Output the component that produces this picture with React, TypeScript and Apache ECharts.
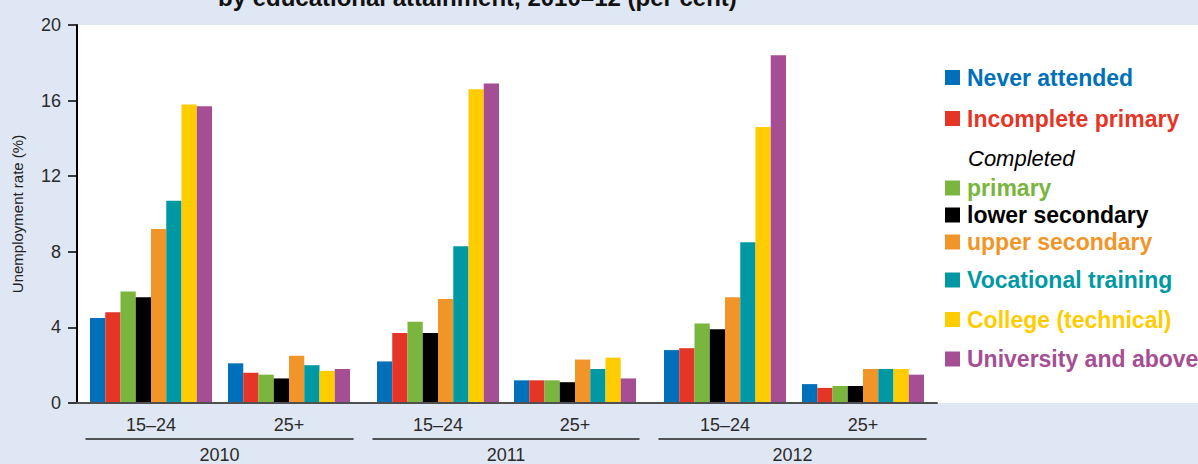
import React, { useEffect, useRef } from "react";
import * as echarts from "echarts";

const ageGroups = ["15–24", "25+"];
const years = ["2010", "2011", "2012"];
const levelNames = [
  "Never attended",
  "Incomplete primary",
  "primary",
  "lower secondary",
  "upper secondary",
  "Vocational training",
  "College (technical)",
  "University and above",
];
// order: 2010 15–24, 2010 25+, 2011 15–24, 2011 25+, 2012 15–24, 2012 25+
const neverAttended = [4.5, 2.1, 2.2, 1.2, 2.8, 1.0];
const incompletePrimary = [4.8, 1.6, 3.7, 1.2, 2.9, 0.8];
const primary = [5.9, 1.5, 4.3, 1.2, 4.2, 0.9];
const lowerSecondary = [5.6, 1.3, 3.7, 1.1, 3.9, 0.9];
const upperSecondary = [9.2, 2.5, 5.5, 2.3, 5.6, 1.8];
const vocational = [10.7, 2.0, 8.3, 1.8, 8.5, 1.8];
const college = [15.8, 1.7, 16.6, 2.4, 14.6, 1.8];
const university = [15.7, 1.8, 16.9, 1.3, 18.4, 1.5];
const levelValues = [
  neverAttended,
  incompletePrimary,
  primary,
  lowerSecondary,
  upperSecondary,
  vocational,
  college,
  university,
];
const colors = [
  "#0070BA",
  "#E53527",
  "#7AB53E",
  "#000000",
  "#F29528",
  "#0099A3",
  "#FFCC00",
  "#A64E93",
];

const FONT = "'Liberation Sans', Arial, Helvetica, sans-serif";
const TOP = 25;
const PLOT_H = 378;

// layout of the per-year bar grids and year-label grids
const barGrids = [
  { left: 82, width: 276 },
  { left: 369.5, width: 274 },
  { left: 656, width: 276 },
];
const yearGrids = [
  { left: 86, width: 267 },
  { left: 373, width: 266 },
  { left: 659, width: 267 },
];

export default function App() {
  const ref = useRef<HTMLDivElement>(null);

  useEffect(() => {
    document.body.style.margin = "0";
    if (!ref.current) return;
    const chart = echarts.init(ref.current, undefined, { renderer: "svg" });

    const grids: any[] = [
      { left: 77, width: 860, top: TOP, height: PLOT_H },
      ...barGrids.map((g) => ({ left: g.left, width: g.width, top: TOP, height: PLOT_H })),
      ...yearGrids.map((g) => ({ left: g.left, width: g.width, top: TOP, height: PLOT_H })),
    ];

    const xAxes: any[] = [
      {
        type: "value",
        gridIndex: 0,
        min: 0,
        max: 1,
        z: 10,
        axisLine: { show: true, onZero: false, lineStyle: { color: "#505050", width: 2 } },
        axisTick: { show: false },
        axisLabel: { show: false },
        splitLine: { show: false },
      },
      ...barGrids.map((_, i) => ({
        type: "category",
        gridIndex: 1 + i,
        data: ageGroups,
        axisLine: { show: false },
        axisTick: { show: false },
        axisLabel: { fontSize: 18, color: "#2a2a2a", margin: 13, fontFamily: FONT },
        splitLine: { show: false },
      })),
      ...yearGrids.map((_, i) => ({
        type: "category",
        gridIndex: 4 + i,
        data: [years[i]],
        position: "bottom",
        offset: 38,
        axisLine: { show: true, onZero: false, lineStyle: { color: "#222", width: 1.5 } },
        axisTick: { show: false },
        axisLabel: { fontSize: 18, color: "#2a2a2a", margin: 7, fontFamily: FONT },
        splitLine: { show: false },
      })),
    ];

    const yAxes: any[] = [
      {
        type: "value",
        gridIndex: 0,
        min: 0,
        max: 20,
        interval: 4,
        name: "Unemployment rate (%)",
        nameLocation: "middle",
        nameGap: 52,
        nameRotate: 90,
        nameTextStyle: { fontSize: 15, color: "#222", fontFamily: FONT },
        axisLine: { show: true, onZero: false, lineStyle: { color: "#000", width: 2 } },
        axisTick: { show: true, length: 9, lineStyle: { color: "#000", width: 1.5 } },
        axisLabel: { fontSize: 18, color: "#2a2a2a", margin: 16, fontFamily: FONT },
        splitLine: { show: false },
      },
      ...barGrids.map((_, i) => ({
        type: "value",
        gridIndex: 1 + i,
        min: 0,
        max: 20,
        show: false,
      })),
      ...yearGrids.map((_, i) => ({
        type: "value",
        gridIndex: 4 + i,
        min: 0,
        max: 1,
        show: false,
      })),
    ];

    const series: any[] = [];
    years.forEach((_, yi) => {
      levelNames.forEach((name, li) => {
        series.push({
          type: "bar",
          name,
          xAxisIndex: 1 + yi,
          yAxisIndex: 1 + yi,
          data: [levelValues[li][2 * yi], levelValues[li][2 * yi + 1]],
          barWidth: 15.25,
          barGap: "0%",
          itemStyle: { color: colors[li] },
        });
      });
    });

    const legendItem = (i: number) => ({
      name: levelNames[i],
      textStyle: { color: colors[i] },
    });
    const legendBase = {
      orient: "vertical",
      left: 945,
      padding: 0,
      icon: "rect",
      itemWidth: 15,
      itemHeight: 15,
      textStyle: {
        fontSize: 23,
        fontWeight: "bold",
        fontFamily: FONT,
        lineHeight: 23,
        padding: [0, 0, 0, 2],
      },
    };

    chart.setOption({
      animation: false,
      backgroundColor: "#E0E7F4",
      textStyle: { fontFamily: FONT },
      grid: grids,
      xAxis: xAxes,
      yAxis: yAxes,
      series,
      legend: [
        { ...legendBase, top: 66, itemGap: 18, data: [0, 1].map(legendItem) },
        { ...legendBase, top: 176.5, itemGap: 4, data: [2, 3, 4].map(legendItem) },
        { ...legendBase, top: 268.5, itemGap: 16.5, data: [5, 6, 7].map(legendItem) },
      ],
      graphic: [
        {
          type: "rect",
          z: -1,
          silent: true,
          shape: { x: 77, y: TOP, width: 1198 - 77, height: PLOT_H },
          style: { fill: "#ffffff" },
        },
        {
          type: "text",
          x: 218,
          y: -2.6,
          silent: true,
          style: {
            text: "by educational attainment, 2010–12 (per cent)",
            font: `bold 24px ${FONT}`,
            fill: "#111",
            verticalAlign: "middle",
            align: "left",
          },
        },
        {
          type: "text",
          x: 968,
          y: 158,
          silent: true,
          style: {
            text: "Completed",
            font: `italic 22px ${FONT}`,
            fill: "#000",
            verticalAlign: "middle",
            align: "left",
          },
        },
      ],
    });

    return () => chart.dispose();
  }, []);

  return <div ref={ref} style={{ width: 1198, height: 464 }} />;
}
